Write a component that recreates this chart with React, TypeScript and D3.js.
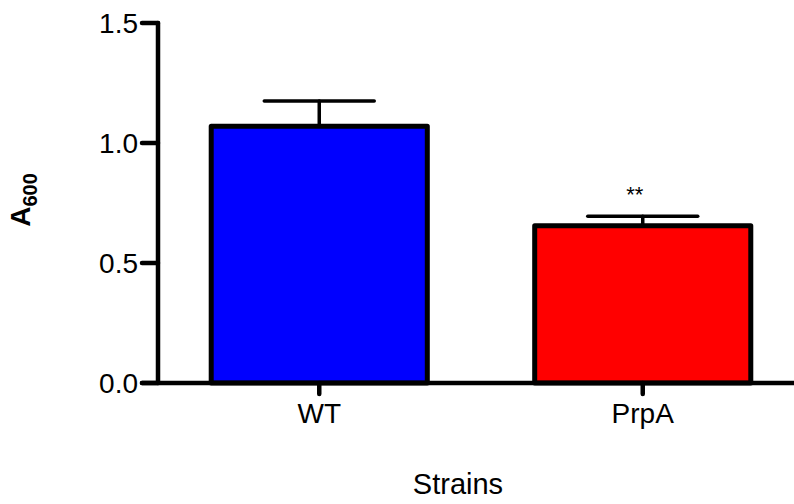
import * as d3 from 'd3';

const strains = ['WT', 'PrpA'];
const means = [1.07, 0.655];
const errors = [0.105, 0.04];
const barColors = ['#0000ff', '#ff0000'];
const yTicks = [0, 0.5, 1.0, 1.5];
const stars = ['', '**'];

const W = 794;
const H = 504;

const y = d3.scaleLinear().domain([0, 1.5]).range([383, 23]);
const x = d3.scaleBand<string>()
    .domain(strains)
    .range([158, 804])
    .paddingInner(0.332)
    .paddingOuter(0.1645);

const font = 'Arial, "Liberation Sans", sans-serif';

export default function App() {
    const bw = x.bandwidth();
    return (
        <svg width={W} height={H} style={{ position: 'absolute', left: 0, top: 0, background: '#fff' }}>
            {/* bars */}
            {strains.map((s, i) => (
                <rect key={s}
                    x={x(s)!} y={y(means[i])}
                    width={bw} height={y(0) - y(means[i])}
                    fill={barColors[i]} stroke="#000" strokeWidth={5} strokeLinejoin="round" />
            ))}
            {/* error bars */}
            {strains.map((s, i) => {
                const cx = x(s)! + bw / 2;
                return (
                    <g key={s + 'e'} stroke="#000" strokeWidth={3.5} strokeLinecap="round">
                        <line x1={cx} x2={cx} y1={y(means[i])} y2={y(means[i] + errors[i])} />
                        <line x1={cx - 55} x2={cx + 55} y1={y(means[i] + errors[i])} y2={y(means[i] + errors[i])} />
                    </g>
                );
            })}
            {strains.map((s, i) => stars[i] ? (
                <text key={s + 's'} x={x(s)! + bw / 2 - 8} y={y(means[i] + errors[i]) - 14}
                    textAnchor="middle" fontFamily={font} fontSize={22}>{stars[i]}</text>
            ) : null)}
            {/* y axis */}
            <line x1={158} x2={158} y1={y(1.5)} y2={y(0)} stroke="#000" strokeWidth={4.5} strokeLinecap="round" />
            {yTicks.map(t => (
                <g key={t}>
                    <line x1={142} x2={158} y1={y(t)} y2={y(t)} stroke="#000" strokeWidth={4.5} strokeLinecap="round" />
                    <text x={138} y={y(t)} dy="0.36em" textAnchor="end" fontFamily={font} fontSize={28}>{t.toFixed(1)}</text>
                </g>
            ))}
            {/* x axis */}
            <line x1={142} x2={796} y1={y(0)} y2={y(0)} stroke="#000" strokeWidth={4.5} strokeLinecap="round" />
            {strains.map(s => {
                const cx = x(s)! + bw / 2;
                return (
                    <g key={s + 't'}>
                        <line x1={cx} x2={cx} y1={y(0)} y2={394} stroke="#000" strokeWidth={4.5} strokeLinecap="round" />
                        <text x={cx} y={423} textAnchor="middle" fontFamily={font} fontSize={28}>{s}</text>
                    </g>
                );
            })}
            <text x={458} y={494} textAnchor="middle" fontFamily={font} fontSize={29}>Strains</text>
            <text transform="translate(30,200) rotate(-90)" textAnchor="middle" fontFamily={font} fontWeight="bold" fontSize={28}>
                A<tspan fontSize={20} dy={7}>600</tspan>
            </text>
        </svg>
    );
}
